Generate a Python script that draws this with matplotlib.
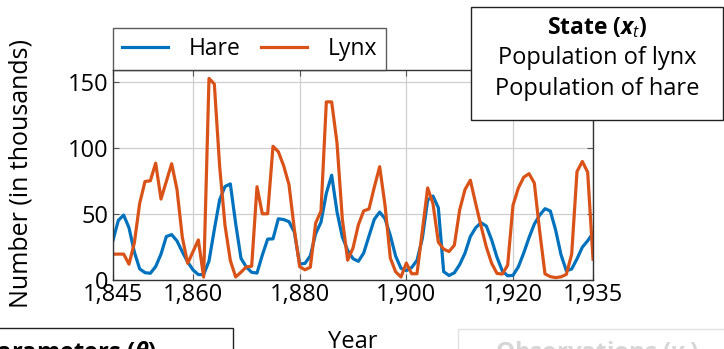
import matplotlib
matplotlib.use("Agg")
import matplotlib.pyplot as plt
from matplotlib.patches import Rectangle
from matplotlib.ticker import FuncFormatter

# -------------------------
# dados
# -------------------------
anos = list(range(1845, 1936))

hare = [30.09, 45.15, 49.15, 39.52, 21.23, 8.42, 5.56, 5.08, 10.17, 19.6,
        32.91, 34.38, 29.59, 21.3, 13.69, 7.65, 4.08, 4.09, 14.33, 38.22,
        60.78, 70.77, 72.77, 42.68, 16.39, 9.83, 5.8, 5.26, 18.91, 30.95,
        31.18, 46.34, 45.77, 44.15, 36.33, 12.03, 12.6, 18.34, 35.14, 43.77,
        65.69, 79.35, 51.65, 32.59, 22.45, 16.16, 14.12, 20.38, 33.33, 46.0,
        51.41, 46.43, 33.68, 18.01, 8.86, 7.13, 9.47, 14.86, 31.47, 60.57,
        63.51, 54.7, 6.3, 3.41, 5.44, 11.65, 20.35, 32.88, 39.55, 43.36,
        40.83, 30.36, 17.18, 6.82, 3.19, 3.52, 9.94, 20.3, 31.99, 42.36,
        49.08, 53.99, 52.25, 37.7, 19.14, 6.98, 8.31, 16.01, 24.82, 29.7,
        35.4]

lynx = [19.58, 19.6, 19.61, 11.99, 28.04, 58.0, 74.6, 75.09, 88.48, 61.28,
        74.67, 88.06, 68.51, 32.19, 12.64, 21.49, 30.35, 2.18, 152.65, 148.36,
        85.81, 41.41, 14.75, 2.28, 5.91, 9.95, 10.44, 70.64, 50.12, 50.13,
        101.25, 97.12, 86.51, 72.17, 38.32, 10.11, 7.74, 9.67, 43.12, 52.21,
        134.85, 134.86, 103.79, 46.1, 15.03, 24.2, 41.65, 52.34, 53.78, 70.4,
        85.81, 56.69, 16.59, 6.16, 2.3, 12.82, 4.72, 4.73, 37.22, 69.72,
        57.78, 28.68, 23.37, 21.54, 26.34, 53.1, 68.48, 75.58, 57.92, 40.97,
        24.95, 12.59, 4.97, 4.5, 11.21, 56.6, 69.63, 77.74, 80.53, 73.38,
        36.93, 4.64, 2.54, 1.8, 2.39, 4.23, 19.52, 82.11, 89.76, 81.66,
        15.76]

xticks = [1845, 1860, 1880, 1900, 1920, 1935]
yticks = [0, 50, 100, 150]

# -------------------------
# estilo
# -------------------------
FONTE = "Open Sans"
plt.rcParams["font.family"] = [FONTE, "DejaVu Sans"]
plt.rcParams["mathtext.fontset"] = "custom"
plt.rcParams["mathtext.rm"] = FONTE
plt.rcParams["mathtext.it"] = FONTE + ":italic"
plt.rcParams["mathtext.bf"] = FONTE + ":bold"
plt.rcParams["mathtext.bfit"] = FONTE + ":bold:italic"

W, H = 724, 349
fig = plt.figure(figsize=(W / 100, H / 100), dpi=100)


def px(x0, y0, x1, y1):
    # caixa em pixels (origem no topo) -> coords da figura
    return [x0 / W, 1 - y1 / H, (x1 - x0) / W, (y1 - y0) / H]


def caixa(x0, y0, x1, y1, cor):
    r = px(x0, y0, x1, y1)
    fig.add_artist(Rectangle((r[0], r[1]), r[2], r[3],
                             transform=fig.transFigure, facecolor="white",
                             edgecolor=cor, lw=1.0, zorder=10))


ax = fig.add_axes(px(113, 70, 593, 280))

ax.plot(anos, hare, color="#0072BD", lw=2.3, label="Hare")
ax.plot(anos, lynx, color="#D95319", lw=2.3, label="Lynx")

ax.set_xlim(1845, 1935)
ax.set_ylim(0, 159)
ax.set_xticks(xticks)
ax.set_yticks(yticks)
ax.xaxis.set_major_formatter(FuncFormatter(lambda v, p: f"{int(v):,}"))
ax.tick_params(direction="in", top=True, right=True, length=4, width=0.8,
               color="#555555", labelsize=17, pad=2)
ax.tick_params(axis="y", pad=3)
ax.grid(True, color="#cfcfcf", lw=0.9)
for s in ax.spines.values():
    s.set_color("#333333")
    s.set_linewidth(1.0)

ax.set_xlabel("Year", fontsize=17, labelpad=16.5)
ax.set_ylabel("Number (in thousands)", fontsize=18)
ax.yaxis.set_label_coords(-0.165, 0.507)

leg = ax.legend(loc="lower left", bbox_to_anchor=(0, 1), ncol=2,
                borderaxespad=0, fontsize=16.5, frameon=True, fancybox=False,
                handlelength=2.0, handletextpad=0.9, columnspacing=0.9,
                borderpad=0.4)
leg.get_frame().set_edgecolor("#333333")
leg.get_frame().set_linewidth(1.0)

# -------------------------
# caixas do diagrama
# -------------------------
caixa(471, 7, 723, 120, "#222222")
fig.text(597 / W, 1 - 34 / H, r"State ($\boldsymbol{x}_t$)", ha="center",
         va="baseline", fontsize=16.5, fontweight="bold", zorder=11)
fig.text(597 / W, 1 - 64 / H, "Population of lynx", ha="center",
         va="baseline", fontsize=17, zorder=11)
fig.text(597 / W, 1 - 95 / H, "Population of hare", ha="center",
         va="baseline", fontsize=17, zorder=11)

caixa(-10, 328, 233, 380, "#222222")
fig.text(157 / W, 1 - 359 / H, r"Parameters ($\boldsymbol{\theta}$)",
         ha="right", va="baseline", fontsize=17, fontweight="bold",
         zorder=11)

caixa(458, 329, 760, 380, "#e2e2e2")
fig.text(495 / W, 1 - 359 / H, r"Observations ($\boldsymbol{y}_t$)",
         ha="left", va="baseline", fontsize=17.5, fontweight="bold",
         color="#d6d6d6", zorder=11)

fig.savefig("out.png", dpi=100)
